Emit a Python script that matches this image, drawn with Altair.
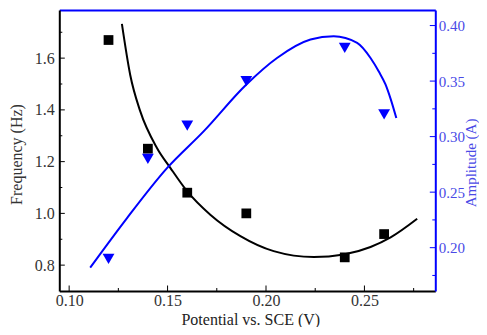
import altair as alt
import pandas as pd

# measured points
potential = [0.12, 0.14, 0.16, 0.19, 0.24, 0.26]
frequency = [1.67, 1.25, 1.08, 1.00, 0.83, 0.92]
amplitude = [0.19, 0.28, 0.31, 0.35, 0.38, 0.32]

# fitted curves
freq_fit_x = [0.1268, 0.131, 0.1361, 0.1446, 0.1514, 0.1599, 0.1717, 0.187,
              0.2039, 0.2243, 0.2395, 0.2531, 0.2633, 0.2768]
freq_fit_y = [1.732, 1.536, 1.395, 1.253, 1.176, 1.086, 0.995, 0.912,
              0.854, 0.831, 0.841, 0.870, 0.907, 0.979]
amp_fit_x = [0.1107, 0.1293, 0.1497, 0.1683, 0.1899, 0.2056, 0.2226, 0.2344,
             0.2463, 0.2531, 0.2573, 0.2607, 0.2633, 0.2662]
amp_fit_y = [0.182, 0.2264, 0.2716, 0.3047, 0.3467, 0.3708, 0.3874, 0.3904,
             0.3844, 0.3708, 0.3586, 0.3470, 0.3340, 0.3167]

# tick values
x_major = [0.10, 0.15, 0.20, 0.25]
x_minor = [0.125, 0.175, 0.225, 0.275]
f_major = [0.8, 1.0, 1.2, 1.4, 1.6]
f_minor = [0.9, 1.1, 1.3, 1.5, 1.7]
a_major = [0.20, 0.25, 0.30, 0.35, 0.40]
a_minor = [0.175, 0.225, 0.275, 0.325, 0.375]

W, H = 376, 281
FONT = "Liberation Serif"
BLUE = "#0000ff"
LBLUE = "#4a4ae6"

pts = pd.DataFrame({"x": potential, "f": frequency, "a": amplitude})
ffit = pd.DataFrame({"x": freq_fit_x, "f": freq_fit_y})
afit = pd.DataFrame({"x": amp_fit_x, "a": amp_fit_y})

xs = alt.Scale(domain=[0.095, 0.286], nice=False, zero=False)
fs = alt.Scale(domain=[0.7, 1.786], nice=False, zero=False)
ascale = alt.Scale(domain=[0.161, 0.414], nice=False, zero=False)

x_axis = alt.Axis(values=x_major, format=".2f", ticks=False, grid=False,
                  domainColor="black", domainWidth=2,
                  labelFont=FONT, labelFontSize=16, labelColor="#333333",
                  labelPadding=1.5,
                  title="Potential vs. SCE (V)", titleFont=FONT,
                  titleFontSize=16, titleFontWeight="normal",
                  titleColor="#222222", titleBaseline="alphabetic",
                  titleX=191, titleY=33.3)
f_axis = alt.Axis(values=f_major, format=".1f", ticks=False, grid=False,
                  domainColor="black", domainWidth=2,
                  labelFont=FONT, labelFontSize=16, labelColor="#333333",
                  labelPadding=5,
                  title="Frequency (Hz)", titleFont=FONT, titleFontSize=16,
                  titleFontWeight="normal", titleColor="#333333",
                  titleAngle=270, titleBaseline="alphabetic",
                  titleX=-37.8, titleY=144)
a_axis = alt.Axis(values=a_major, format=".2f", ticks=False, grid=False,
                  orient="right",
                  domainColor=BLUE, domainWidth=2,
                  labelFont=FONT, labelFontSize=15, labelColor=LBLUE,
                  labelPadding=3,
                  title="Amplitude (A)", titleFont=FONT, titleFontSize=15,
                  titleFontWeight="normal", titleColor=LBLUE,
                  titleAngle=270, titleBaseline="alphabetic",
                  titleX=40.2, titleY=152.5)
top_axis = alt.Axis(orient="top", ticks=False, labels=False, grid=False,
                    domainColor=BLUE, domainWidth=2, title="")

freq_line = alt.Chart(ffit).mark_line(
    color="black", strokeWidth=2, interpolate="monotone"
).encode(x=alt.X("x:Q", scale=xs, axis=x_axis),
         y=alt.Y("f:Q", scale=fs, axis=f_axis))

freq_pts = alt.Chart(pts).mark_square(
    color="black", size=95, opacity=1
).encode(x=alt.X("x:Q", scale=xs, axis=x_axis),
         y=alt.Y("f:Q", scale=fs, axis=f_axis))


def hticks(values, scale, axis, x0, x1, color):
    return alt.Chart(pd.DataFrame({"v": values})).mark_rule(
        color=color, strokeWidth=1
    ).encode(y=alt.Y("v:Q", scale=scale, axis=axis),
             x=alt.value(x0), x2=alt.value(x1))


def vticks(values, scale, axis, y0, y1, color):
    return alt.Chart(pd.DataFrame({"v": values})).mark_rule(
        color=color, strokeWidth=1
    ).encode(x=alt.X("v:Q", scale=scale, axis=axis),
             y=alt.value(y0), y2=alt.value(y1))


left_major = hticks(f_major, fs, f_axis, 0, 5.5, "black")
left_minor = hticks(f_minor, fs, f_axis, 0, 3, "black")
bottom_major = vticks(x_major, xs, x_axis, H, H - 5.5, "black")
bottom_minor = vticks(x_minor, xs, x_axis, H, H - 3, "black")

amp_line = alt.Chart(afit).mark_line(
    color=BLUE, strokeWidth=2, interpolate="monotone"
).encode(x=alt.X("x:Q", scale=xs, axis=top_axis),
         y=alt.Y("a:Q", scale=ascale, axis=a_axis))

amp_pts = alt.Chart(pts).mark_point(
    shape="triangle-down", filled=True, color=BLUE, size=140, opacity=1
).encode(x=alt.X("x:Q", scale=xs, axis=top_axis),
         y=alt.Y("a:Q", scale=ascale, axis=a_axis))

right_major = hticks(a_major, ascale, a_axis, W, W - 5.5, BLUE)
right_minor = hticks(a_minor, ascale, a_axis, W, W - 3, BLUE)

freq_layer = alt.layer(freq_line, freq_pts, left_major, left_minor,
                       bottom_major, bottom_minor)
amp_layer = alt.layer(amp_line, amp_pts, right_major, right_minor)

chart = alt.layer(freq_layer, amp_layer).resolve_scale(
    x="independent", y="independent"
).properties(
    width=W, height=H, autosize="none",
    padding={"left": 51.3, "top": 2, "right": 43.7, "bottom": 36}
).configure_view(stroke=None)

chart.save("out.html", embed_options={"renderer": "svg", "actions": False})
